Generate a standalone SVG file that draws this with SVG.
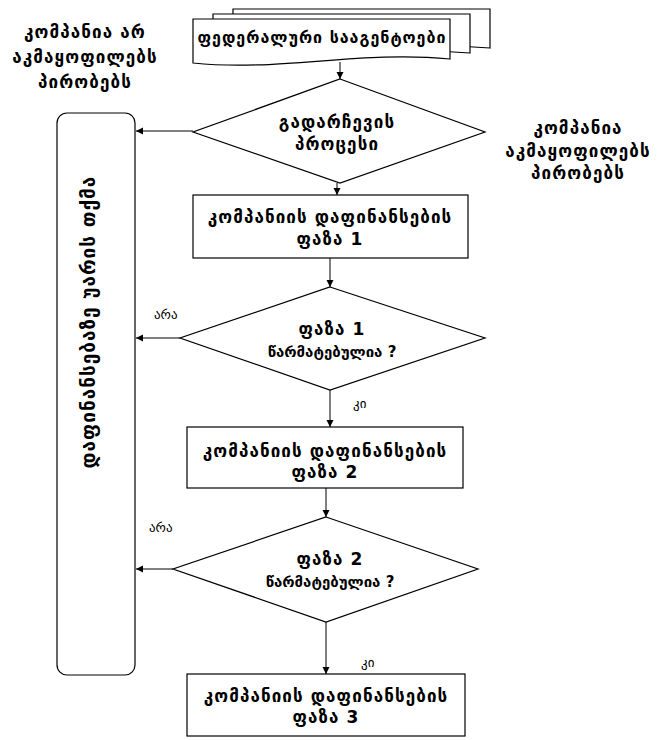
<svg xmlns="http://www.w3.org/2000/svg" width="657" height="740" viewBox="0 0 657 740">
<defs>
<marker id="ah" markerWidth="8" markerHeight="8" refX="7" refY="4" orient="auto" markerUnits="userSpaceOnUse"><path d="M0,0.5 L7,4 L0,7.5 z" fill="#000"/></marker>
</defs>
<style>
.shape{fill:#fff;stroke:#000;stroke-width:1.2}
.t{font-family:"DejaVu Sans",sans-serif;font-weight:bold;font-size:17px;letter-spacing:1.1px;text-anchor:middle;fill:#000}
.n{font-size:15px;letter-spacing:0}
.d{font-size:16px;letter-spacing:1px}
.lbl{font-family:"DejaVu Sans",sans-serif;font-size:13px;fill:#000}
.c{fill:none;stroke:#000;stroke-width:1;marker-end:url(#ah)}
</style>
<rect width="657" height="740" fill="#fff"/>
<g id="docs">
<path class="shape" d="M233,9 H490 V48 C400,40 320,62 233,53 Z"/>
<path class="shape" d="M213,14 H470 V53 C380,45 300,67 213,58 Z"/>
<path class="shape" d="M193,19 H450 V59 C360,50 280,72 193,63 Z"/>
<text class="t d" x="322" y="43">ფედერალური სააგენტოები</text>
</g>
<g id="label-left">
<text class="t" x="85" y="38">კომპანია არ</text>
<text class="t" x="85" y="63">აკმაყოფილებს</text>
<text class="t" x="85" y="88">პირობებს</text>
</g>
<g id="label-right">
<text class="t" x="578" y="134">კომპანია</text>
<text class="t" x="578" y="157">აკმაყოფილებს</text>
<text class="t" x="578" y="179">პირობებს</text>
</g>
<g id="selection">
<polygon class="shape" points="340,79 485,132 340,183 193,132"/>
<text class="t" x="337" y="128">გადარჩევის</text>
<text class="t" x="337" y="150">პროცესი</text>
</g>
<g id="phase1">
<rect class="shape" x="193" y="195" width="275" height="63"/>
<text class="t" x="330" y="223">კომპანიის დაფინანსების</text>
<text class="t" x="330" y="245">ფაზა 1</text>
</g>
<g id="check1">
<polygon class="shape" points="330,287 485,338 330,390 180,338"/>
<text class="t" x="332" y="335">ფაზა 1</text>
<text class="t n" x="332" y="357">წარმატებულია ?</text>
</g>
<g id="phase2">
<rect class="shape" x="187" y="427" width="276" height="61"/>
<text class="t" x="325" y="457">კომპანიის დაფინანსების</text>
<text class="t" x="325" y="478">ფაზა 2</text>
</g>
<g id="check2">
<polygon class="shape" points="326,517 478,569 326,622 173,569"/>
<text class="t" x="330" y="565">ფაზა 2</text>
<text class="t n" x="330" y="587">წარმატებულია ?</text>
</g>
<g id="phase3">
<rect class="shape" x="187" y="674" width="278" height="62"/>
<text class="t" x="326" y="702">კომპანიის დაფინანსების</text>
<text class="t" x="326" y="723">ფაზა 3</text>
</g>
<g id="refusal">
<rect class="shape" x="57" y="113" width="78" height="562" rx="10"/>
<text class="t" style="font-size:19px;letter-spacing:1px" transform="translate(89,322) rotate(-90)" y="6">დაფინანსებაზე უარის თქმა</text>
</g>
<g id="connectors">
<path class="c" d="M340,62 V79"/>
<path class="c" d="M337,183 V195"/>
<path class="c" d="M193,131 H136"/>
<path class="c" d="M330,258 V287"/>
<path class="c" d="M180,338 H136"/>
<path class="c" d="M330,390 V427"/>
<path class="c" d="M326,488 V517"/>
<path class="c" d="M173,569 H136"/>
<path class="c" d="M326,622 V674"/>
<text class="lbl" x="154" y="319">არა</text>
<text class="lbl" x="149" y="532">არა</text>
<text class="lbl" x="353" y="408">კი</text>
<text class="lbl" x="361" y="667">კი</text>
</g>
</svg>
